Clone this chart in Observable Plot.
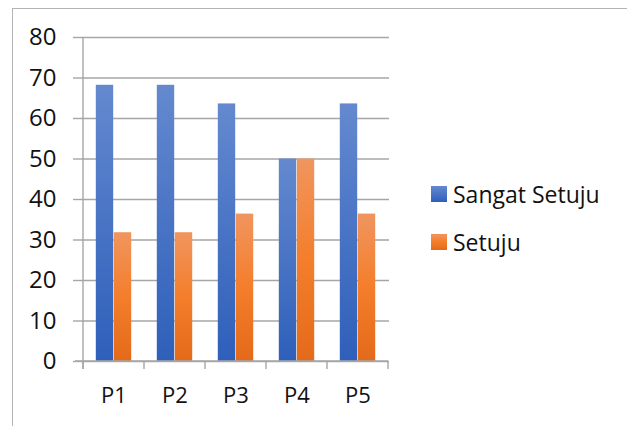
<!DOCTYPE html>
<html>
<head>
<meta charset="utf-8">
<script src="https://cdn.jsdelivr.net/npm/d3@7"></script>
<script src="https://cdn.jsdelivr.net/npm/@observablehq/plot@0.6"></script>
<style>
  html, body { margin: 0; padding: 0; background: #fff; }
  #wrap { position: relative; width: 627px; height: 426px; overflow: hidden; font-family: "Open Sans", sans-serif; }
  #border { position: absolute; left: 12px; top: 8px; width: 700px; height: 500px; border-left: 1.5px solid #b4b4b4; border-top: 1.5px solid #b4b4b4; }
  #legend { position: absolute; left: 431px; top: 169.5px; font-size: 23px; color: #111; z-index: 2; }
  .item { display: flex; align-items: center; height: 48px; }
  .sw { width: 16px; height: 16px; margin-right: 6px; }
  svg { position: absolute; left: 0; top: 0; }
</style>
</head>
<body>
<div id="wrap"><div id="border"></div><div id="legend"></div></div>
<script>
const categories = ["P1", "P2", "P3", "P4", "P5"];
const seriesNames = ["Sangat Setuju", "Setuju"];
const sangatSetuju = [68.2, 68.2, 63.6, 50, 63.6];
const setuju = [31.8, 31.8, 36.4, 50, 36.4];
const yTicks = [0, 10, 20, 30, 40, 50, 60, 70, 80];

const rows1 = categories.map((c, i) => ({cat: c, series: seriesNames[0], value: sangatSetuju[i]}));
const rows2 = categories.map((c, i) => ({cat: c, series: seriesNames[1], value: setuju[i]}));

const W = 627, H = 426, ML = 81, MR = 238, MT = 37, MB = 65;
const step = (W - ML - MR) / categories.length;
const barW = 18;
const gridColor = "#a6a6a6";

const defs = () => {
  const d = d3.create("svg:defs");
  const g1 = d.append("linearGradient").attr("id", "gBlue").attr("x1", 0).attr("y1", 0).attr("x2", 0).attr("y2", 1);
  g1.append("stop").attr("offset", "0%").attr("stop-color", "#6489cf");
  g1.append("stop").attr("offset", "100%").attr("stop-color", "#2e5fba");
  const g2 = d.append("linearGradient").attr("id", "gOrange").attr("x1", 0).attr("y1", 0).attr("x2", 0).attr("y2", 1);
  g2.append("stop").attr("offset", "0%").attr("stop-color", "#f0955f");
  g2.append("stop").attr("offset", "50%").attr("stop-color", "#f47e2b");
  g2.append("stop").attr("offset", "100%").attr("stop-color", "#e36a1a");
  return d.node();
};

const plot = Plot.plot({
  width: W, height: H,
  marginLeft: ML, marginRight: MR, marginTop: MT, marginBottom: MB,
  style: {fontFamily: "Open Sans, sans-serif", color: "#111", background: "transparent"},
  x: {domain: categories, padding: 0, label: null},
  y: {domain: [0, 80], label: null},
  marks: [
    defs,
    Plot.gridY(yTicks, {stroke: gridColor, strokeOpacity: 1, strokeWidth: 1.4}),
    Plot.axisY(yTicks, {tickSize: 8, tickPadding: 17, stroke: gridColor, strokeWidth: 1.4, fill: "#111", fontSize: 24, label: null}),
    Plot.axisX({tickSize: 0, tickPadding: 25.5, fill: "#111", fontSize: 22, label: null}),
    Plot.barY(rows1, {x: "cat", y: "value", fill: "url(#gBlue)", insetLeft: step / 2 - barW, insetRight: step / 2}),
    Plot.barY(rows2, {x: "cat", y: "value", fill: "url(#gOrange)", insetLeft: step / 2, insetRight: step / 2 - barW})
  ]
});

const sx = plot.scale("x"), sy = plot.scale("y");
const svg = d3.select(plot);
const x0 = sx.apply(categories[0]);
const bounds = categories.map(c => sx.apply(c)).concat([sx.apply(categories[categories.length - 1]) + sx.bandwidth]);
const yBase = sy.apply(0), yTop = sy.apply(80);
const g = svg.append("g").attr("stroke", gridColor).attr("stroke-width", 1.4);
g.append("line").attr("x1", x0).attr("x2", x0).attr("y1", yTop).attr("y2", yBase + 8);
bounds.forEach(b => g.append("line").attr("x1", b).attr("x2", b).attr("y1", yBase).attr("y2", yBase + 8));
g.append("line").attr("x1", x0 - 8).attr("x2", bounds[bounds.length - 1]).attr("y1", yBase).attr("y2", yBase);

document.getElementById("wrap").appendChild(plot);

const legend = d3.select("#legend");
const swatch = ["linear-gradient(#6489cf, #2e5fba)", "linear-gradient(#f0955f, #f47e2b, #e36a1a)"];
seriesNames.forEach((s, i) => {
  const it = legend.append("div").attr("class", "item");
  it.append("div").attr("class", "sw").style("background", swatch[i]);
  it.append("span").text(s);
});
</script>
</body>
</html>
